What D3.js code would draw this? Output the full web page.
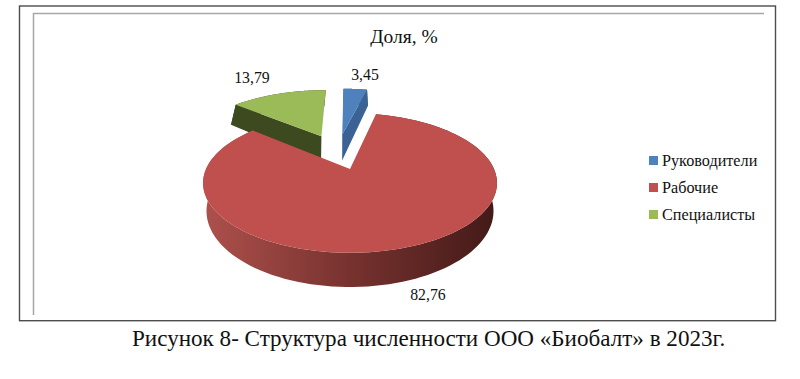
<!DOCTYPE html>
<html>
<head>
<meta charset="utf-8">
<script src="https://cdn.jsdelivr.net/npm/d3@7"></script>
<style>
  html, body { margin: 0; padding: 0; background: #fff; }
  text { font-family: "Liberation Serif", serif; fill: #111; }
</style>
</head>
<body>
<script>
const width = 800;
const height = 379;

const categories = ['Руководители', 'Рабочие', 'Специалисты'];
const shares = [3.45, 82.76, 13.79];
const shareLabels = ['3,45', '82,76', '13,79'];
const chartTitle = 'Доля, %';
const figureCaption = 'Рисунок 8- Структура численности ООО «Биобалт» в 2023г.';

const topColors = ['#4f81bd', '#c0504d', '#9bbb59'];
const wallColors = ['#3a6294', 'url(#red-wall)', '#3d4a20'];

// how far each slice is pulled out of the pie, in disc units
const explodeU = [-0.06, 0, -0.22];
const explodeV = [0.575, 0, 0.54];

// the top and the bottom of the pie are two planes with their own perspective
const topPlane = { cx: 350, cy: 169, rx: 144, ry: 67, k: 0.2 };
const bottomPlane = { cx: 350, cy: 200, rx: 142, ry: 74.4, k: 0.145 };

function project(plane, angle, radius, i) {
  const u = radius * Math.sin(angle) + explodeU[i];
  const v = radius * Math.cos(angle) + explodeV[i];
  const s = 1 / (1 + plane.k * v);
  return [plane.cx + plane.rx * u * s, plane.cy - plane.ry * v * s];
}

function arcPoints(plane, d, i) {
  const step = (d.endAngle - d.startAngle) / 120;
  return d3.range(121).map(n => project(plane, d.startAngle + n * step, 1, i));
}

const line = d3.line();

const svg = d3.select('body')
  .append('svg')
  .attr('width', width)
  .attr('height', height)
  .style('display', 'block');

// frames
const frames = svg.append('g').attr('fill', 'none');
frames.append('rect')
  .attr('x', 19.5).attr('y', 6)
  .attr('width', 756).attr('height', 314.7)
  .attr('stroke', '#4d4d4d').attr('stroke-width', 1.4);
frames.append('path')
  .attr('d', 'M33.5,315V13.5H764')
  .attr('stroke', '#a6a6a6').attr('stroke-width', 1.5);

const grad = svg.append('defs').append('linearGradient')
  .attr('id', 'red-wall')
  .attr('gradientUnits', 'userSpaceOnUse')
  .attr('x1', 205).attr('x2', 495).attr('y1', 0).attr('y2', 0);
grad.append('stop').attr('offset', '0%').attr('stop-color', '#ad504c');
grad.append('stop').attr('offset', '50%').attr('stop-color', '#77322f');
grad.append('stop').attr('offset', '100%').attr('stop-color', '#431a18');

svg.append('text')
  .attr('x', 404).attr('y', 43)
  .attr('text-anchor', 'middle')
  .attr('font-size', 19.5)
  .text(chartTitle);

const pie = d3.pie().sort(null)(shares);

// back slices first, the big red one covers them
const drawOrder = [2, 0, 1];
const pieG = svg.append('g');

drawOrder.forEach(i => {
  const d = pie[i];
  const topApex = project(topPlane, 0, 0, i);
  const bottomApex = project(bottomPlane, 0, 0, i);
  const topArc = arcPoints(topPlane, d, i);
  const bottomArc = arcPoints(bottomPlane, d, i);

  // rim
  pieG.append('path')
    .attr('d', line(topArc.concat(bottomArc.slice().reverse())) + 'Z')
    .attr('fill', wallColors[i]);

  // cut face that looks at the viewer
  if (i !== 1) {
    const edge = i === 0 ? d.endAngle : d.startAngle;
    pieG.append('path')
      .attr('d', line([
        topApex,
        project(topPlane, edge, 1, i),
        project(bottomPlane, edge, 1, i),
        bottomApex,
      ]) + 'Z')
      .attr('fill', wallColors[i]);
  }

  pieG.append('path')
    .attr('d', line([topApex].concat(topArc)) + 'Z')
    .attr('fill', topColors[i]);
});

// value labels
const labelX = [365, 428, 252];
const labelY = [80, 300, 83];
svg.append('g').selectAll('text')
  .data(shareLabels)
  .join('text')
  .attr('x', (d, i) => labelX[i])
  .attr('y', (d, i) => labelY[i])
  .attr('text-anchor', 'middle')
  .attr('font-size', 15.8)
  .text(d => d);

// legend
const legendY = d3.scalePoint().domain(categories).range([160.5, 214.5]);
const legend = svg.append('g').selectAll('g')
  .data(categories)
  .join('g')
  .attr('transform', d => 'translate(649,' + legendY(d) + ')');
legend.append('rect')
  .attr('x', 0).attr('y', -4.5)
  .attr('width', 9).attr('height', 9)
  .attr('fill', (d, i) => topColors[i]);
legend.append('text')
  .attr('x', 13).attr('y', 5.5)
  .attr('font-size', 16.2)
  .text(d => d);

svg.append('text')
  .attr('x', 132).attr('y', 346)
  .attr('font-size', 23.1)
  .text(figureCaption);
</script>
</body>
</html>
